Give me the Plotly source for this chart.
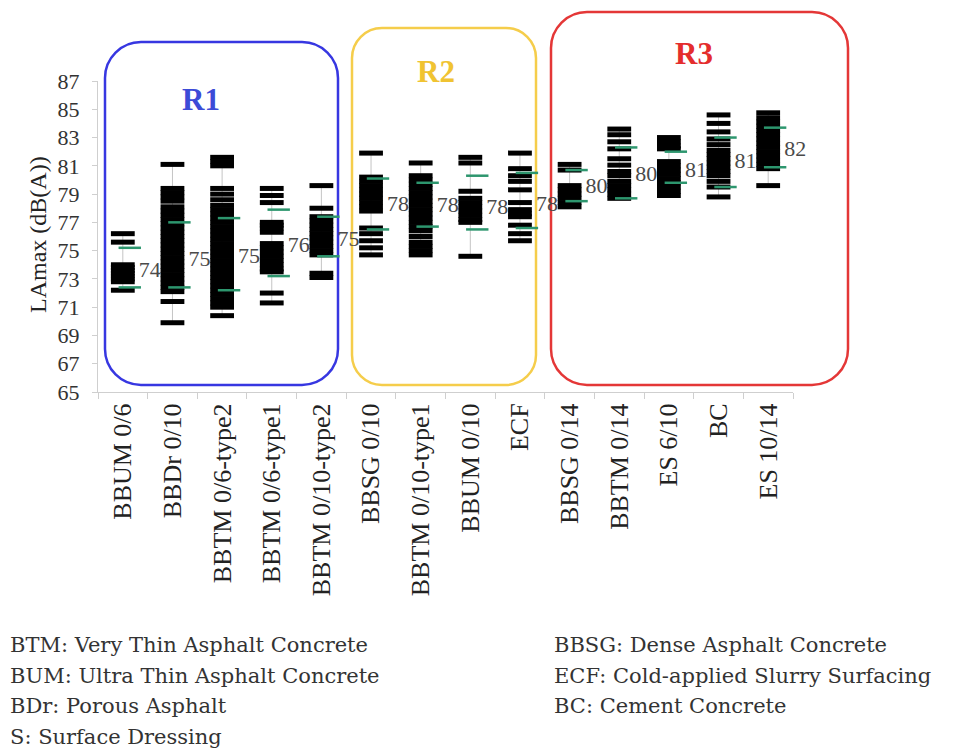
import plotly.graph_objects as go

# ---------------- data ----------------
categories = ["BBUM 0/6", "BBDr 0/10", "BBTM 0/6-type2", "BBTM 0/6-type1", "BBTM 0/10-type2",
              "BBSG 0/10", "BBTM 0/10-type1", "BBUM 0/10", "ECF",
              "BBSG 0/14", "BBTM 0/14", "ES 6/10", "BC", "ES 10/14"]

v_bbum06 = [76.2, 75.6, 74.0, 73.8, 73.6, 73.4, 73.2, 73.0, 72.8, 72.2]
v_bbdr010 = [81.1, 79.4, 79.1, 78.8, 78.5, 78.1, 77.8, 77.5, 77.2, 76.9, 76.6, 76.3, 76.0, 75.7,
             75.4, 75.1, 74.8, 74.5, 74.2, 73.9, 73.6, 73.3, 73.0, 72.7, 72.4, 72.1, 71.4, 69.9]
v_bbtm06t2 = [81.6, 81.3, 81.0, 79.4, 79.0, 78.6, 78.2, 77.9, 77.6, 77.3, 77.0, 76.7, 76.4, 76.1,
              75.8, 75.5, 75.2, 74.9, 74.6, 74.3, 74.0, 73.7, 73.4, 73.1, 72.8, 72.5, 72.2, 71.9,
              71.6, 71.3, 71.0, 70.4]
v_bbtm06t1 = [79.4, 78.9, 78.4, 77.0, 76.8, 76.6, 76.3, 75.5, 75.2, 74.9, 74.6, 74.3, 74.0, 73.7,
              73.5, 72.0, 71.3]
v_bbtm010t2 = [79.6, 78.0, 77.4, 77.1, 76.8, 76.5, 76.2, 75.9, 75.6, 75.3, 75.0, 74.7, 73.4, 73.1]
v_bbsg010 = [81.9, 80.2, 79.9, 79.6, 79.3, 79.0, 78.7, 78.4, 78.1, 77.8, 76.6, 76.2, 75.7, 75.2, 74.7]
v_bbtm010t1 = [81.2, 80.3, 80.0, 79.7, 79.4, 79.1, 78.8, 78.5, 78.2, 77.9, 77.6, 77.3, 77.0, 76.7,
               76.4, 76.0, 75.6, 75.3, 75.0, 74.7]
v_bbum010 = [81.6, 81.2, 79.2, 78.7, 78.4, 78.1, 77.8, 77.5, 77.2, 77.0, 74.6]
v_ecf = [81.9, 80.8, 80.3, 79.9, 79.3, 78.4, 77.9, 77.6, 77.4, 76.8, 76.2, 75.7]
v_bbsg014 = [81.1, 80.7, 79.6, 79.3, 79.0, 78.7, 78.4, 78.1]
v_bbtm014 = [83.6, 83.2, 82.7, 82.2, 81.5, 81.05, 80.6, 80.3, 79.9, 79.6, 79.3, 79.0, 78.7]
v_es610 = [83.0, 82.7, 82.4, 82.2, 81.3, 81.0, 80.7, 80.4, 80.1, 79.8, 79.5, 79.2, 78.9]
v_bc = [84.6, 84.0, 83.4, 82.9, 82.5, 82.1, 81.8, 81.5, 81.2, 80.9, 80.6, 80.3, 79.9, 79.5, 78.8]
v_es1014 = [84.75, 84.4, 84.1, 83.8, 83.5, 83.2, 82.9, 82.6, 82.3, 82.0, 81.7, 81.4, 81.1, 80.8, 79.6]

values = [v_bbum06, v_bbdr010, v_bbtm06t2, v_bbtm06t1, v_bbtm010t2, v_bbsg010, v_bbtm010t1,
          v_bbum010, v_ecf, v_bbsg014, v_bbtm014, v_es610, v_bc, v_es1014]

green_high = [75.2, 77.0, 77.3, 77.9, 77.4, 80.1, 79.8, 80.3, 80.5, 80.7, 82.3, 82.0, 83.0, 83.7]
green_low = [72.4, 72.4, 72.2, 73.2, 74.6, 76.5, 76.7, 76.5, 76.6, 78.5, 78.7, 79.8, 79.5, 80.9]

label_level = [73.5, 74.3, 74.5, 75.3, 75.7, 78.2, 78.1, 78.0, 78.2, 79.5, 80.3, 80.6, 81.2, 82.1]
label_text = ["74", "75", "75", "76", "75", "78", "78", "78", "78", "80", "80", "81", "81", "82"]

y_ticks = list(range(65, 88, 2))

legend_left = ["BTM: Very Thin Asphalt Concrete", "BUM: Ultra Thin Asphalt Concrete",
               "BDr: Porous Asphalt", "S: Surface Dressing"]
legend_right = ["BBSG: Dense Asphalt Concrete", "ECF: Cold-applied Slurry Surfacing",
                "BC: Cement Concrete"]

# ---------------- layout helpers ----------------
# the page body adds an 8px margin, so the figure is drawn 8px smaller and
# every target page-pixel position is shifted by 8px.
OFF = 8
W, H = 953 - OFF, 751 - OFF
X0, X1, YB, YT = 98 - OFF, 793 - OFF, 392 - OFF, 81 - OFF

def px(x):
    return (x - OFF - X0) / (X1 - X0)

def py(y):
    return (YB - (y - OFF)) / (YB - YT)

def rounded(x0, y0, x1, y1, r):
    k = 0.552 * r
    pts = [
        ("M", [(x0 + r, y0)]),
        ("L", [(x1 - r, y0)]),
        ("C", [(x1 - r + k, y0), (x1, y0 + r - k), (x1, y0 + r)]),
        ("L", [(x1, y1 - r)]),
        ("C", [(x1, y1 - r + k), (x1 - r + k, y1), (x1 - r, y1)]),
        ("L", [(x0 + r, y1)]),
        ("C", [(x0 + r - k, y1), (x0, y1 - r + k), (x0, y1 - r)]),
        ("L", [(x0, y0 + r)]),
        ("C", [(x0, y0 + r - k), (x0 + r - k, y0), (x0 + r, y0)]),
    ]
    s = ""
    for cmd, ps in pts:
        s += cmd + " " + " ".join(f"{px(a):.5f},{py(b):.5f}" for a, b in ps) + " "
    return s + "Z"

SERIF = "Liberation Serif, Times New Roman, serif"
LEG_FONT = dict(family="DejaVu Serif, serif", size=21, color="#333")

fig = go.Figure()

# whisker lines
wx, wy = [], []
for i, vals in enumerate(values):
    wx += [i, i, None]
    wy += [min(vals), max(vals), None]
fig.add_trace(go.Scatter(x=wx, y=wy, mode="lines", line=dict(color="#c4c4c4", width=1),
                         hoverinfo="skip", showlegend=False))

# black dashes (individual measurements)
bx, by = [], []
for i, vals in enumerate(values):
    bx += [i] * len(vals)
    by += vals
fig.add_trace(go.Scatter(x=bx, y=by, mode="markers",
                         marker=dict(symbol="line-ew", size=17, line=dict(color="black", width=5)),
                         showlegend=False))

# green dashes
gx, gy = [], []
for i in range(len(categories)):
    gx += [i + 0.14, i + 0.14]
    gy += [green_high[i], green_low[i]]
fig.add_trace(go.Scatter(x=gx, y=gy, mode="markers",
                         marker=dict(symbol="line-ew", size=16, line=dict(color="rgb(45,150,110)", width=2.5)),
                         showlegend=False))

# value labels, written to the right of each column
fig.add_trace(go.Scatter(x=list(range(len(categories))), y=label_level,
                         mode="markers+text", text=label_text, textposition="middle right",
                         cliponaxis=False,
                         marker=dict(size=24, color="rgba(0,0,0,0)"),
                         textfont=dict(family=SERIF, size=22, color="#4a4a4a"),
                         showlegend=False, hoverinfo="skip"))

shapes = [
    dict(type="path", xref="paper", yref="paper", path=rounded(105, 42, 338, 385, 36),
         line=dict(color="rgb(55,55,225)", width=2.5), layer="below"),
    dict(type="path", xref="paper", yref="paper", path=rounded(352, 28, 536, 385, 30),
         line=dict(color="rgb(245,205,75)", width=2.5), layer="below"),
    dict(type="path", xref="paper", yref="paper", path=rounded(551, 12, 848, 385, 36),
         line=dict(color="rgb(228,55,55)", width=2.5), layer="below"),
]

annotations = [
    dict(text="<b>R1</b>", x=px(201), y=py(99), xref="paper", yref="paper", showarrow=False,
         xanchor="center", yanchor="middle",
         font=dict(family=SERIF, size=31, color="rgb(60,75,215)")),
    dict(text="<b>R2</b>", x=px(436), y=py(71), xref="paper", yref="paper", showarrow=False,
         xanchor="center", yanchor="middle",
         font=dict(family=SERIF, size=31, color="rgb(240,195,50)")),
    dict(text="<b>R3</b>", x=px(694), y=py(54), xref="paper", yref="paper", showarrow=False,
         xanchor="center", yanchor="middle",
         font=dict(family=SERIF, size=31, color="rgb(228,45,45)")),
    dict(text="LAmax (dB(A))", x=px(38), y=py(235), xref="paper", yref="paper", showarrow=False,
         xanchor="center", yanchor="middle",
         textangle=-90, font=dict(family=SERIF, size=24, color="#222")),
]
for k, t in enumerate(legend_left):
    annotations.append(dict(text=t, x=px(OFF), y=py(645 + 30.5 * k), xref="paper", yref="paper",
                            xanchor="left", yanchor="middle", showarrow=False, font=LEG_FONT))
for k, t in enumerate(legend_right):
    annotations.append(dict(text=t, x=px(552), y=py(645 + 30.5 * k), xref="paper", yref="paper",
                            xanchor="left", yanchor="middle", showarrow=False, font=LEG_FONT))

fig.update_layout(
    width=W, height=H, autosize=False,
    margin=dict(l=X0, r=W - X1, t=YT, b=H - YB, pad=0),
    plot_bgcolor="white", paper_bgcolor="white",
    shapes=shapes, annotations=annotations,
    xaxis=dict(range=[-0.5, len(categories) - 0.5], tickmode="array",
               tickvals=list(range(len(categories))), ticktext=categories,
               tickangle=-90, ticks="", showgrid=False, zeroline=False, automargin=False,
               showline=True, linecolor="#cfcfcf", linewidth=1,
               tickfont=dict(family=SERIF, size=26, color="#222"),
               minor=dict(tickvals=[i - 0.5 for i in range(len(categories) + 1)],
                          ticks="outside", ticklen=6, tickcolor="#cfcfcf", showgrid=False)),
    yaxis=dict(range=[65, 87], tickmode="array", tickvals=y_ticks,
               ticks="outside", ticklen=5, tickcolor="#cfcfcf", automargin=False,
               showgrid=False, zeroline=False, showline=True, linecolor="#cfcfcf", linewidth=1,
               ticklabelstandoff=8,
               tickfont=dict(family=SERIF, size=22, color="#333")),
)

fig.write_html("out.html")
